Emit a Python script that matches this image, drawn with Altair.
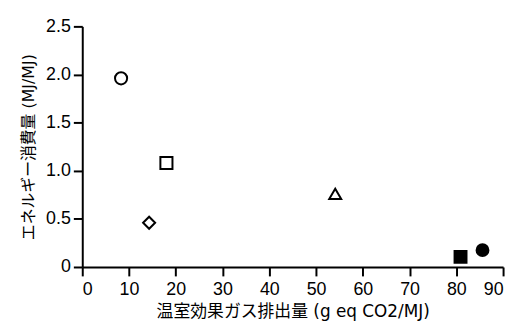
import altair as alt
import pandas as pd

names = ["A", "B", "C", "D", "E", "F"]
ghg = [8.3, 18.0, 14.3, 54.1, 80.9, 85.6]
energy = [1.96, 1.08, 0.46, 0.76, 0.105, 0.175]

x_ticks = [0, 10, 20, 30, 40, 50, 60, 70, 80, 90]
y_ticks = [0, 0.5, 1.0, 1.5, 2.0, 2.5]

df = pd.DataFrame({"name": names, "ghg": ghg, "energy": energy})

shape_range = ["circle", "square", "diamond", "triangle-up", "square", "circle"]
fill_range = ["white", "white", "white", "white", "black", "black"]
size_range = [150, 144, 230, 190, 160, 165]

label_font = "Liberation Sans"
title_font = "DejaVu Sans, Noto Sans CJK JP"

chart = alt.Chart(df).mark_point(filled=True, strokeWidth=2, stroke="black", opacity=1).encode(
    x=alt.X("ghg:Q", scale=alt.Scale(domain=[0, 90], nice=False, zero=False),
            axis=alt.Axis(values=x_ticks, title="温室効果ガス排出量 (g eq CO2/MJ)", format="d",
                          titleFontSize=17)),
    y=alt.Y("energy:Q", scale=alt.Scale(domain=[0, 2.5], nice=False),
            axis=alt.Axis(values=y_ticks, title="エネルギー消費量 (MJ/MJ)", titleFontSize=16,
                          labelExpr="datum.value == 0 ? '0' : format(datum.value, '.1f')")),
    shape=alt.Shape("name:N", scale=alt.Scale(domain=names, range=shape_range), legend=None),
    fill=alt.Fill("name:N", scale=alt.Scale(domain=names, range=fill_range), legend=None),
    size=alt.Size("name:N", scale=alt.Scale(domain=names, range=size_range), legend=None),
).properties(
    width=425, height=243,
    autosize=alt.AutoSizeParams(type="none"),
    padding={"left": 75, "top": 17, "right": 8, "bottom": 54},
).configure_view(stroke=None).configure_axis(
    grid=False,
    domainColor="black", domainWidth=2,
    tickColor="black", tickWidth=2, tickSize=9,
    labelColor="black", labelFont=label_font, labelFontSize=18,
    titleColor="black", titleFont=title_font, titleFontWeight="normal",
).configure_axisX(labelPadding=5, titlePadding=5).configure_axisY(labelPadding=3, titlePadding=9)

chart.save("out.html", embed_options={"renderer": "svg", "actions": False})
